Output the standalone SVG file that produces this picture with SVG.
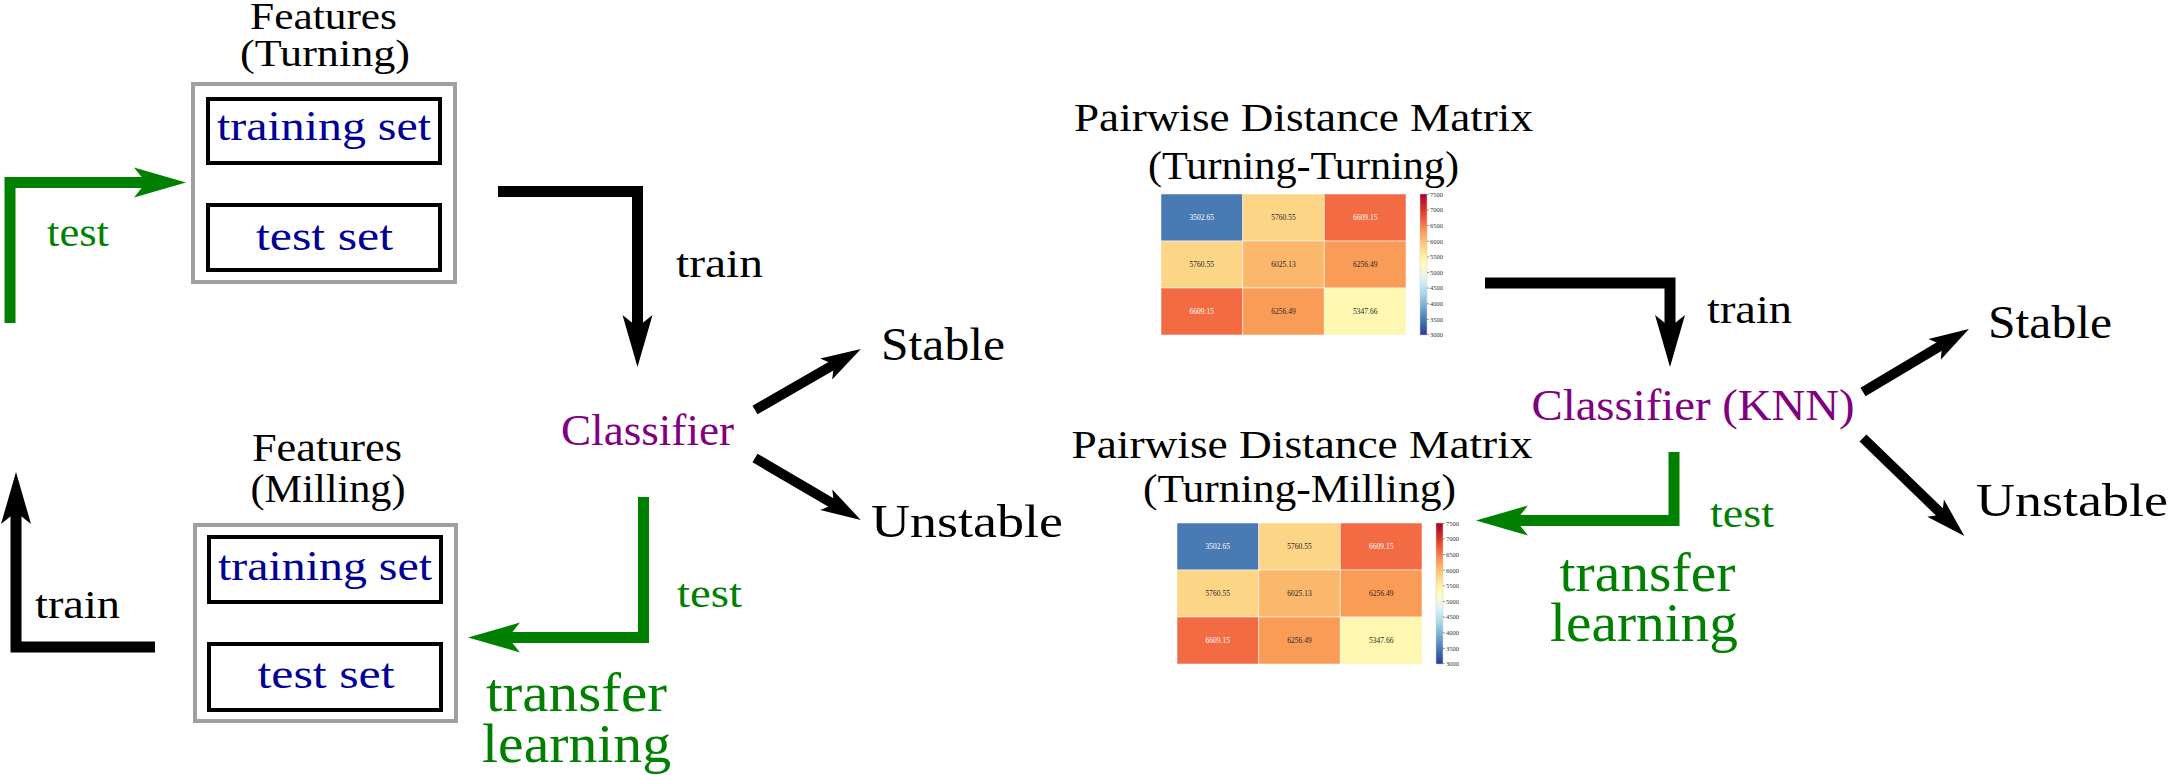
<svg xmlns="http://www.w3.org/2000/svg" xmlns:xlink="http://www.w3.org/1999/xlink" width="2170" height="775" viewBox="0 0 2170 775">
<style>
.t{font-family:"Liberation Serif","Times New Roman",serif;text-anchor:middle}
.k{fill:#000}
.b{fill:#000096}
.p{fill:#800080}
.g{fill:#008000}
.outer{fill:none;stroke:#a0a0a0;stroke-width:4}
.inner{fill:#fff;stroke:#000;stroke-width:4}
.lk{fill:none;stroke:#000;stroke-width:11;stroke-linejoin:miter}
.lg{fill:none;stroke:#008000;stroke-width:11;stroke-linejoin:miter}
.ld{fill:none;stroke:#000;stroke-width:10}
.cv{font-family:"Liberation Serif","Times New Roman",serif;font-size:7.5px;text-anchor:middle;fill:#262626}
.cw{fill:#fff}
.tk{font-family:"Liberation Serif","Times New Roman",serif;font-size:6.5px;fill:#333}
.cell{stroke:#fff;stroke-opacity:0.5;stroke-width:1}
</style>
<defs>
<marker id="ahK" markerUnits="userSpaceOnUse" markerWidth="60" markerHeight="40" refX="0" refY="0" orient="auto" style="overflow:visible"><path d="M40,0 L-12,-15 L0,0 L-12,15 Z" fill="#000"/></marker>
<marker id="ahG" markerUnits="userSpaceOnUse" markerWidth="60" markerHeight="40" refX="0" refY="0" orient="auto" style="overflow:visible"><path d="M40,0 L-12,-15 L0,0 L-12,15 Z" fill="#008000"/></marker>
<marker id="ahD" markerUnits="userSpaceOnUse" markerWidth="50" markerHeight="30" refX="0" refY="0" orient="auto" style="overflow:visible"><path d="M31,0 L-9,-12 L0,0 L-9,12 Z" fill="#000"/></marker>
<linearGradient id="cb" x1="0" y1="0" x2="0" y2="1">
<stop offset="0" stop-color="#a50026"/><stop offset="0.1" stop-color="#d73027"/><stop offset="0.2" stop-color="#f46d43"/><stop offset="0.3" stop-color="#fdae61"/><stop offset="0.4" stop-color="#fee090"/><stop offset="0.5" stop-color="#ffffbf"/><stop offset="0.6" stop-color="#e0f3f8"/><stop offset="0.7" stop-color="#abd9e9"/><stop offset="0.8" stop-color="#74add1"/><stop offset="0.9" stop-color="#4575b4"/><stop offset="1" stop-color="#313695"/>
</linearGradient>
<g id="hm">
<rect class="cell" x="0" y="0" width="81.67" height="47" fill="#4a7ab4"/>
<rect class="cell" x="81.67" y="0" width="81.67" height="47" fill="#fdd587"/>
<rect class="cell" x="163.33" y="0" width="81.67" height="47" fill="#f26b43"/>
<rect class="cell" x="0" y="47" width="81.67" height="47" fill="#fdd587"/>
<rect class="cell" x="81.67" y="47" width="81.67" height="47" fill="#fbb76b"/>
<rect class="cell" x="163.33" y="47" width="81.67" height="47" fill="#f99c58"/>
<rect class="cell" x="0" y="94" width="81.67" height="47" fill="#f26b43"/>
<rect class="cell" x="81.67" y="94" width="81.67" height="47" fill="#f99c58"/>
<rect class="cell" x="163.33" y="94" width="81.67" height="47" fill="#fef7b1"/>
<text class="cv cw" x="40.8" y="26">3502.65</text>
<text class="cv" x="122.5" y="26">5760.55</text>
<text class="cv cw" x="204.2" y="26">6609.15</text>
<text class="cv" x="40.8" y="73">5760.55</text>
<text class="cv" x="122.5" y="73">6025.13</text>
<text class="cv" x="204.2" y="73">6256.49</text>
<text class="cv cw" x="40.8" y="120">6609.15</text>
<text class="cv" x="122.5" y="120">6256.49</text>
<text class="cv" x="204.2" y="120">5347.66</text>
<rect x="259" y="0" width="7" height="141" fill="url(#cb)" stroke="#ccc" stroke-width="0.5"/>
<path d="M266,0.3h2M266,15.9h2M266,31.6h2M266,47.2h2M266,62.9h2M266,78.5h2M266,94.1h2M266,109.8h2M266,125.4h2M266,140.7h2" stroke="#555" stroke-width="0.6"/>
<text class="tk" x="269" y="2.6">7500</text>
<text class="tk" x="269" y="18.2">7000</text>
<text class="tk" x="269" y="33.9">6500</text>
<text class="tk" x="269" y="49.5">6000</text>
<text class="tk" x="269" y="65.2">5500</text>
<text class="tk" x="269" y="80.8">5000</text>
<text class="tk" x="269" y="96.4">4500</text>
<text class="tk" x="269" y="112.1">4000</text>
<text class="tk" x="269" y="127.7">3500</text>
<text class="tk" x="269" y="143">3000</text>
</g>
</defs>

<g id="connectors">
<path class="lg" d="M10,323 V182.5 H146" marker-end="url(#ahG)"/>
<path class="lk" d="M498,191.5 H637.5 V327" marker-end="url(#ahK)"/>
<path class="ld" d="M755,410 L834,364.5" marker-end="url(#ahD)"/>
<path class="ld" d="M755,458 L834,504.3" marker-end="url(#ahD)"/>
<path class="lk" d="M155,647 H16 V512" marker-end="url(#ahK)"/>
<path class="lg" d="M643.5,497 V637.5 H508" marker-end="url(#ahG)"/>
<path class="lk" d="M1485,283 H1670 V327" marker-end="url(#ahK)"/>
<path class="lg" d="M1674,452 V520.5 H1516" marker-end="url(#ahG)"/>
<path class="ld" d="M1863,392 L1942.3,344.8" marker-end="url(#ahD)"/>
<path class="ld" d="M1863,438 L1942.1,514.5" marker-end="url(#ahD)"/>
</g>

<g id="features-turning">
<text class="t k" x="323.5" y="29" font-size="38" textLength="147" lengthAdjust="spacingAndGlyphs">Features</text>
<text class="t k" x="325" y="66" font-size="38" textLength="170" lengthAdjust="spacingAndGlyphs">(Turning)</text>
<rect class="outer" x="193" y="84" width="262" height="198"/>
<rect class="inner" x="208" y="99" width="232" height="64"/>
<text class="t b" x="324" y="140" font-size="43" textLength="214" lengthAdjust="spacingAndGlyphs">training set</text>
<rect class="inner" x="208" y="205" width="232" height="65"/>
<text class="t b" x="324.5" y="250" font-size="43" textLength="137" lengthAdjust="spacingAndGlyphs">test set</text>
</g>

<g id="features-milling">
<text class="t k" x="327" y="461" font-size="39" textLength="150" lengthAdjust="spacingAndGlyphs">Features</text>
<text class="t k" x="328" y="502" font-size="39" textLength="155" lengthAdjust="spacingAndGlyphs">(Milling)</text>
<rect class="outer" x="195" y="525" width="261" height="196"/>
<rect class="inner" x="209" y="537" width="232" height="65"/>
<text class="t b" x="325" y="580" font-size="43" textLength="214" lengthAdjust="spacingAndGlyphs">training set</text>
<rect class="inner" x="209" y="644" width="232" height="66"/>
<text class="t b" x="326" y="688" font-size="43" textLength="137" lengthAdjust="spacingAndGlyphs">test set</text>
</g>

<g id="labels-left">
<text class="t g" x="78" y="246" font-size="40" textLength="62" lengthAdjust="spacingAndGlyphs">test</text>
<text class="t k" x="719.5" y="277" font-size="40" textLength="87" lengthAdjust="spacingAndGlyphs">train</text>
<text class="t k" x="77.5" y="618" font-size="40" textLength="85" lengthAdjust="spacingAndGlyphs">train</text>
<text class="t g" x="709.5" y="607" font-size="40" textLength="65" lengthAdjust="spacingAndGlyphs">test</text>
<text class="t g" x="576.5" y="711" font-size="55" textLength="181" lengthAdjust="spacingAndGlyphs">transfer</text>
<text class="t g" x="576.5" y="762" font-size="55" textLength="189" lengthAdjust="spacingAndGlyphs">learning</text>
</g>

<g id="classifier">
<text class="t p" x="647.5" y="445" font-size="45" textLength="173" lengthAdjust="spacingAndGlyphs">Classifier</text>
</g>
<g id="stable-left">
<text class="t k" x="943" y="360" font-size="46" textLength="124" lengthAdjust="spacingAndGlyphs">Stable</text>
</g>
<g id="unstable-left">
<text class="t k" x="967" y="537" font-size="47" textLength="192" lengthAdjust="spacingAndGlyphs">Unstable</text>
</g>

<g id="matrix-turning-turning">
<text class="t k" x="1303.5" y="131" font-size="41" textLength="459" lengthAdjust="spacingAndGlyphs">Pairwise Distance Matrix</text>
<text class="t k" x="1303.5" y="179" font-size="41" textLength="311" lengthAdjust="spacingAndGlyphs">(Turning-Turning)</text>
<use xlink:href="#hm" href="#hm" x="1161" y="194"/>
</g>

<g id="matrix-turning-milling">
<text class="t k" x="1302" y="458" font-size="41" textLength="461" lengthAdjust="spacingAndGlyphs">Pairwise Distance Matrix</text>
<text class="t k" x="1299.5" y="502" font-size="41" textLength="313" lengthAdjust="spacingAndGlyphs">(Turning-Milling)</text>
<use xlink:href="#hm" href="#hm" x="1177" y="523"/>
</g>

<g id="labels-right">
<text class="t k" x="1749.5" y="323" font-size="40" textLength="85" lengthAdjust="spacingAndGlyphs">train</text>
<text class="t g" x="1742" y="527" font-size="40" textLength="64" lengthAdjust="spacingAndGlyphs">test</text>
<text class="t g" x="1647.5" y="591" font-size="55" textLength="176" lengthAdjust="spacingAndGlyphs">transfer</text>
<text class="t g" x="1644" y="641" font-size="55" textLength="188" lengthAdjust="spacingAndGlyphs">learning</text>
</g>

<g id="classifier-knn">
<text class="t p" x="1693" y="420" font-size="45" textLength="323" lengthAdjust="spacingAndGlyphs">Classifier (KNN)</text>
</g>
<g id="stable-right">
<text class="t k" x="2050" y="338" font-size="46" textLength="124" lengthAdjust="spacingAndGlyphs">Stable</text>
</g>
<g id="unstable-right">
<text class="t k" x="2072" y="516" font-size="47" textLength="192" lengthAdjust="spacingAndGlyphs">Unstable</text>
</g>
</svg>
